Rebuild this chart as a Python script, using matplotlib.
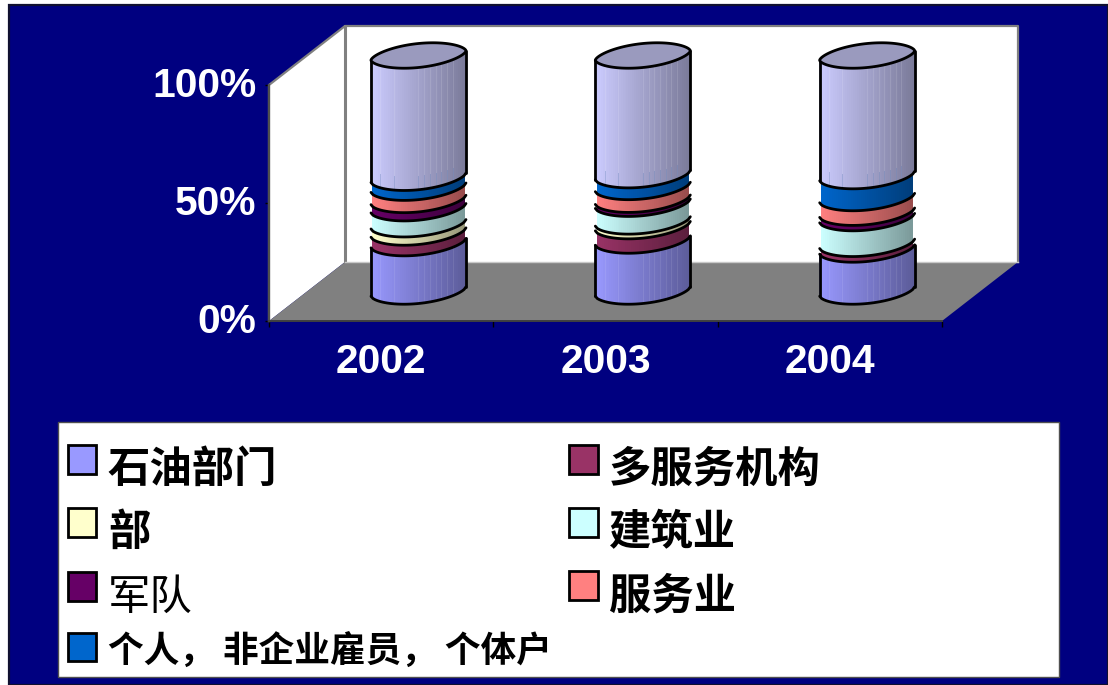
import matplotlib
matplotlib.use("Agg")
import matplotlib.pyplot as plt
import numpy as np
from matplotlib.collections import PolyCollection
from matplotlib.font_manager import FontProperties
from matplotlib.patches import Patch, Rectangle
from matplotlib.transforms import ScaledTranslation

years = ["2002", "2003", "2004"]
# the top band has no entry in the legend of the original picture
labels = ["石油部门", "多服务机构", "部", "建筑业", "军队", "服务业", "个人， 非企业雇员， 个体户", None]
colors = ["#9999FF", "#993366", "#FFFFCC", "#CCFFFF", "#660066", "#FF8080", "#0066CC", "#CCCCFF"]

oil = [20.5, 21.6, 17.8]
multi = [4.5, 6.1, 2.4]
bu = [3.5, 2.0, 0.0]
build = [6.8, 7.5, 10.9]
army = [3.5, 1.7, 2.3]
service = [5.2, 5.4, 6.2]
person = [4.2, 5.0, 9.3]
other = [51.8, 50.7, 51.1]
series = [oil, multi, bu, build, army, service, person, other]

W, H = 1108, 685
fig = plt.figure(figsize=(W / 100, H / 100), dpi=100, facecolor="white")

# navy slide background
fig.patches.append(Rectangle((8.5 / W, 0.5 / H), 1 - 8.5 / W, 1 - 5 / H, transform=fig.transFigure,
                             facecolor="#000080", edgecolor="#101030", linewidth=1.6, zorder=-2))

# axes = front plane of the 3d box
ax = fig.add_axes([269 / W, (H - 321) / H, 673 / W, 236 / H])
ax.set_xlim(-0.5, 2.5)
ax.set_ylim(0, 100)
ax.patch.set_visible(False)
for s in ax.spines.values():
    s.set_visible(False)

px_x = 673 / 3  # pixels per category
px_y = 2.36     # pixels per percent
dx = 76 / px_x  # depth of box in data units
dy = 59 / px_y

ax.fill([-0.5, -0.5 + dx, -0.5 + dx, -0.5], [0, dy, 100 + dy, 100], color="white", lw=0, clip_on=False, zorder=1)
ax.fill([-0.5 + dx, 2.5 + dx, 2.5 + dx, -0.5 + dx], [dy, dy, 100 + dy, 100 + dy], color="white", lw=0, clip_on=False, zorder=1)
ax.fill([-0.5, 2.5, 2.5 + dx, -0.5 + dx], [0, 0, dy, dy], color="#808080", lw=0, clip_on=False, zorder=1)
ax.plot([-0.5, -0.5, -0.5 + dx, 2.5 + dx, 2.5 + dx], [0, 100, 100 + dy, 100 + dy, dy], color="#808080", lw=1.6, clip_on=False, zorder=2)
ax.plot([-0.5 + dx, -0.5 + dx], [dy, 100 + dy], color="#808080", lw=2.2, clip_on=False, zorder=2)
ax.plot([-0.5, -0.5], [0, 100], color="#505050", lw=1.6, clip_on=False, zorder=2)
ax.plot([-0.5, 2.5], [0, 0], color="#404040", lw=1.4, clip_on=False, zorder=2)
ax.plot([-0.5 + dx, 2.5 + dx], [dy, dy], color="#c8c8c8", lw=1, clip_on=False, zorder=2)

a = 47.5 / px_x
b = 12 / px_y
sk = 4.7 / px_y
lift = 12.5
# strips of equal width on screen, not equal angle
t = 2 * np.pi - np.arccos(np.linspace(-1, 1, 49))
streaks = [0.1, 0.24, 0.5, 0.56, 0.62, 0.68, 0.74, 0.8, 0.86]


def rim(cx, level, ts):
    sn = np.sin(ts)
    return cx + a * np.cos(ts), level + lift + b * np.sign(sn) * np.abs(sn) ** 1.25 + sk * np.cos(ts)


def shade(col, u):
    rgb = np.array(matplotlib.colors.to_rgb(col))
    return tuple(rgb * (1 - 0.40 * u))


for i in range(len(years)):
    cx = i + dx / 2 - 0.003
    base = 0
    tops = []
    for k in range(len(series)):
        v = series[k][i]
        if v == 0:
            continue
        polys = []
        cols = []
        inset = 0.0 if k in (0, len(series) - 1) else 0.008
        for j in range(len(t) - 1):
            x0, y0 = rim(cx, base, t[j:j + 2])
            x1, y1 = rim(cx, base + v, t[j:j + 2])
            c = np.cos(t[j:j + 2])
            xa = cx + (a - inset) * c
            polys.append(np.column_stack([np.r_[xa, xa[::-1]], np.r_[y0, y1[::-1]]]))
            cols.append(shade(colors[k], (c.mean() + 1) / 2))
        ax.add_collection(PolyCollection(polys, facecolors=cols, edgecolors="none", linewidths=0,
                                         antialiaseds=False, clip_on=False, zorder=3))
        tops.append(base + v)
        base += v

    # faint vertical streaks on the first and last band
    for u in streaks:
        sx = cx - a + 2 * a * u
        st = 2 * np.pi - np.arccos(2 * u - 1)
        _, y_low = rim(cx, tops[-2], np.array([st]))
        _, y_top = rim(cx, 100, np.array([st]))
        ax.plot([sx, sx], [y_low[0], y_top[0]], color="white", lw=0.6, alpha=0.14, clip_on=False, zorder=4)
        ax.plot([sx, sx], [y_low[0], y_low[0] + 6], color="#5070B0", lw=0.7, alpha=0.3, clip_on=False, zorder=4)
        _, y_bot = rim(cx, 0, np.array([st]))
        _, y_one = rim(cx, tops[0], np.array([st]))
        ax.plot([sx, sx], [y_bot[0], y_one[0]], color="white", lw=0.6, alpha=0.1, clip_on=False, zorder=4)

    # outline: one front rim on every boundary, side edges only on first and last band
    ink = dict(color="black", lw=2.0, clip_on=False, zorder=5, solid_capstyle="round")
    x, y = rim(cx, 0, t)
    ax.plot(x, y, **ink)
    for level in tops[:-1]:
        x, y = rim(cx, level, t)
        ax.plot(x, y, **ink)
    for side in (np.pi, 2 * np.pi):
        x0, y0 = rim(cx, 0, np.array([side]))
        x1, y1 = rim(cx, tops[0], np.array([side]))
        ax.plot([x0[0], x1[0]], [y0[0], y1[0]], **ink)
        x0, y0 = rim(cx, tops[-2], np.array([side]))
        x1, y1 = rim(cx, 100, np.array([side]))
        ax.plot([x0[0], x1[0]], [y0[0], y1[0]], **ink)

    # top cap
    tt = np.linspace(0, 2 * np.pi, 121)
    x, y = rim(cx, 100, tt)
    ax.fill(x, y, facecolor="#9A9ABE", edgecolor="black", lw=2.0, clip_on=False, zorder=6)

ax.set_yticks([0, 50, 100])
ax.set_yticklabels(["0%", "50%", "100%"])
ax.set_xticks([0, 1, 2])
ax.set_xticklabels(years)
ax.set_xticks([-0.5, 0.5, 1.5, 2.5], minor=True)
ax.tick_params(axis="y", length=3, width=1, color="black", pad=6, labelcolor="white")
ax.tick_params(axis="x", which="major", length=0, pad=16, labelcolor="white")
ax.tick_params(axis="x", which="minor", length=4, width=1, color="black")
for lab in ax.get_xticklabels() + ax.get_yticklabels():
    lab.set_fontfamily("Liberation Sans")
    lab.set_fontweight("bold")
    lab.set_fontsize(29.3)
up = ScaledTranslation(0, 3 / 100, fig.dpi_scale_trans)
for lab in ax.get_yticklabels():
    lab.set_transform(lab.get_transform() + up)

# legend box
fig.patches.append(Rectangle((57.5 / W, (H - 676.5) / H), 1001.5 / W, 254.5 / H, transform=fig.transFigure,
                             facecolor="white", edgecolor="#505050", linewidth=1, zorder=-1))
order = [0, 2, 4, 6, 1, 3, 5]
handles = [Patch(facecolor=colors[k], edgecolor="black", linewidth=2, label=labels[k]) for k in order]
cjk = FontProperties(family=["Noto Sans CJK SC", "DejaVu Sans"], size=30.5, weight="bold")
leg = fig.legend(handles=handles, ncols=2, loc="upper left", bbox_to_anchor=(68 / W, (H - 441) / H),
                 prop=cjk, frameon=False, handlelength=0.67, handleheight=0.67, handletextpad=0.27,
                 labelspacing=0.5, columnspacing=0.42, borderpad=0, borderaxespad=0)
leg.get_texts()[3].set_fontsize(25.7)
leg.get_texts()[2].set_fontweight("regular")
# big labels sit lower than their boxes in the original
for n in [0, 1, 2, 4, 5, 6]:
    leg.get_texts()[n].set_position((0, -8))

fig.savefig("out.png", dpi=100, facecolor=fig.get_facecolor())
